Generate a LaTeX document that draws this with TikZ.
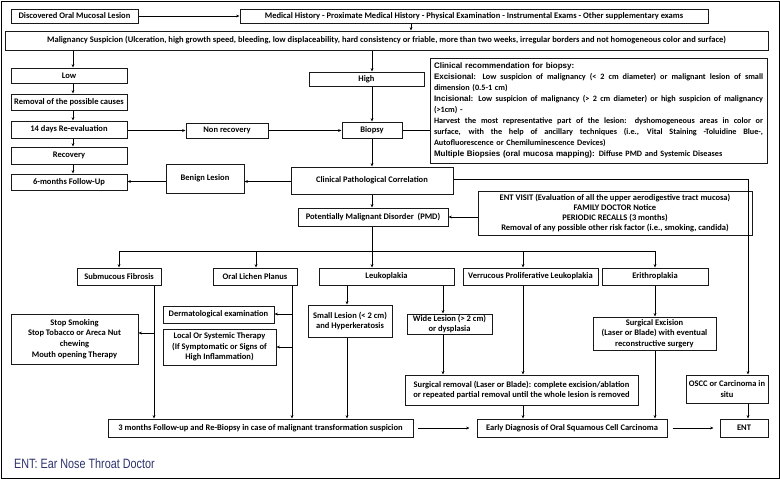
\documentclass[tikz,border=0pt]{standalone}
\usepackage{fontspec}
\setmainfont{Carlito}
\newfontfamily\hdfont{Liberation Sans}
\newfontfamily\narrowfont[FakeStretch=0.8]{Liberation Sans}
\usetikzlibrary{arrows.meta,calc}
\definecolor{navy}{RGB}{45,50,110}
\newcommand\fnt{\fontsize{8.5}{10.5}\selectfont\bfseries}
\newcommand\hd[1]{{\hdfont\bfseries\fontsize{8}{11.1}\selectfont #1}}
\newcommand\jline[1]{\makebox[329pt][s]{\spaceskip=0pt\xspaceskip=0pt #1}}
\begin{document}
\begin{tikzpicture}[x=1pt,y=-1pt,
  bx/.style={draw=black!90, line width=1pt, inner sep=0pt, font=\fnt, align=center},
  arr/.style={-{Stealth[length=3.4pt,width=2.8pt]}, line width=0.7pt},
  ln/.style={line width=0.7pt}]
\useasboundingbox (0,0) rectangle (780,479);
\draw[line width=0.8pt] (1,1) rectangle (779,478);

% nodes
\node[bx, minimum width=127, minimum height=14] (disc) at (74.5,16) {Discovered Oral Mucosal Lesion};
\node[bx, minimum width=468, minimum height=14] (med) at (474,16) {Medical History - Proximate Medical History - Physical Examination - Instrumental Exams - Other supplementary exams};
\node[bx, minimum width=763, minimum height=19] (mal) at (386.5,40.5) {Malignancy Suspicion (Ulceration, high growth speed, bleeding, low displaceability, hard consistency or friable, more than two weeks, irregular borders and not homogeneous color and surface)};
\node[bx, minimum width=116, minimum height=15] (low) at (69,75.5) {Low};
\node[bx, minimum width=116, minimum height=16] (rem) at (69,102) {Removal of the possible causes};
\node[bx, minimum width=116, minimum height=17] (d14) at (69,129.5) {14 days Re-evaluation};
\node[bx, minimum width=116, minimum height=17] (rec) at (69,155.5) {Recovery};
\node[bx, minimum width=116, minimum height=16] (six) at (69,182) {6-months Follow-Up};
\node[bx, minimum width=82, minimum height=15] (nonrec) at (227,130.5) {Non recovery};
\node[bx, minimum width=115, minimum height=14] (high) at (366.5,79) {High};
\node[bx, minimum width=60, minimum height=16] (biopsy) at (372,130) {Biopsy};
\node[bx, minimum width=337, minimum height=105, text width=329pt, align=left, font=\fontsize{8.2}{11.1}\selectfont\bfseries] (clin) at (598.5,110.5) {\hd{Clinical recommendation for biopsy:}\\
\jline{\hd{Excisional}: Low suspicion of malignancy (< 2 cm diameter) or malignant lesion of small}\\
dimension (0.5-1 cm)\\
\jline{\hd{Incisional}: Low suspicion of malignancy (> 2 cm diameter) or high suspicion of malignancy}\\
(>1cm) -\\
\jline{Harvest the most representative part of the lesion: dyshomogeneous areas in color or}\\
\jline{surface, with the help of ancillary techniques (i.e., Vital Staining -Toluidine Blue-,}\\
Autofluorescence or Chemiluminescence Devices)\\
\hd{Multiple Biopsies (oral mucosa mapping):} Diffuse PMD and Systemic Diseases};
\node[bx, minimum width=162, minimum height=27] (cpc) at (372,180.5) {Clinical Pathological Correlation};
\node[bx, minimum width=78, minimum height=29] (benign) at (205,178.5) {Benign Lesion};
\node[bx, minimum width=150, minimum height=18] (pmd) at (373,217) {Potentially Malignant Disorder~~(PMD)};
\node[bx, minimum width=274, minimum height=44, font=\fontsize{8.5}{10.2}\selectfont\bfseries] (entv) at (615,213) {ENT VISIT (Evaluation of all the upper aerodigestive tract mucosa)\\FAMILY DOCTOR Notice\\PERIODIC RECALLS (3 months)\\Removal of any possible other risk factor (i.e., smoking, candida)};
\node[bx, minimum width=84, minimum height=17] (smf) at (119,276.5) {Submucous Fibrosis};
\node[bx, minimum width=84, minimum height=17] (olp) at (255,276.5) {Oral Lichen Planus};
\node[bx, minimum width=135, minimum height=17] (leuk) at (386.5,276.5) {Leukoplakia};
\node[bx, minimum width=135, minimum height=17] (vpl) at (530.5,276.5) {Verrucous Proliferative Leukoplakia};
\node[bx, minimum width=106, minimum height=17] (eri) at (655,276.5) {Erithroplakia};
\node[bx, minimum width=127, minimum height=50, font=\fontsize{8.5}{10.8}\selectfont\bfseries] (stop) at (74.5,339) {Stop Smoking\\Stop Tobacco or Areca Nut\\chewing\\Mouth opening Therapy};
\node[bx, minimum width=111, minimum height=17] (derm) at (218.5,314.5) {Dermatological examination};
\node[bx, minimum width=113, minimum height=36] (local) at (219.5,347) {Local Or Systemic Therapy\\(If Symptomatic or Signs of\\High Inflammation)};
\node[bx, minimum width=84, minimum height=32] (small) at (350,321) {Small Lesion (< 2 cm)\\and Hyperkeratosis};
\node[bx, minimum width=85, minimum height=20] (wide) at (449.5,324) {Wide Lesion (> 2 cm)\\or dysplasia};
\node[bx, minimum width=123, minimum height=33] (surgex) at (654.5,333.5) {Surgical Excision\\(Laser or Blade) with eventual\\reconstructive surgery};
\node[bx, minimum width=233, minimum height=30] (surgrem) at (521.5,390) {Surgical removal (Laser or Blade): complete excision/ablation\\or repeated partial removal until the whole lesion is removed};
\node[bx, minimum width=82, minimum height=28] (oscc) at (727,389) {OSCC or Carcinoma in\\situ};
\node[bx, minimum width=305, minimum height=18] (three) at (260.5,428) {3 months Follow-up and Re-Biopsy in case of malignant transformation suspicion};
\node[bx, minimum width=190, minimum height=18] (early) at (572,428) {Early Diagnosis of Oral Squamous Cell Carcinoma};
\node[bx, minimum width=48, minimum height=18] (ent) at (744,428) {ENT};
\node[anchor=base west, inner sep=0pt, text=navy, font=\narrowfont\fontsize{13.5}{13.5}\selectfont] (foot) at (14,468) {ENT: Ear Nose Throat Doctor};

% helper coordinates
\coordinate (xA) at (411,0);
\coordinate (xL) at (73,0);
\coordinate (xH) at (372,0);
\coordinate (xO) at (748,0);
\coordinate (xS) at (154,0);
\coordinate (xP) at (292,0);
\coordinate (xK1) at (347,0);
\coordinate (xK2) at (443,0);
\coordinate (xV) at (523,0);
\coordinate (xE) at (655,0);
\coordinate (xB1) at (119,0);
\coordinate (xB2) at (256,0);
\coordinate (bus) at (0,251);
\coordinate (yCP) at (0,179);
\coordinate (yBL) at (0,181.5);
\coordinate (ySt) at (0,333);
\coordinate (yDe) at (0,314);
\coordinate (yLo) at (0,347);

% connectors
\draw[arr] (disc) -- (med);
\draw[arr] (med.south -| xA) -- (mal.north -| xA);
\draw[arr] (mal.south -| xL) -- (low.north -| xL);
\draw[arr] (mal.south -| xH) -- (high.north -| xH);
\draw[arr] (low.south -| xL) -- (rem.north -| xL);
\draw[arr] (rem.south -| xL) -- (d14.north -| xL);
\draw[arr] (d14.south -| xL) -- (rec.north -| xL);
\draw[arr] (rec.south -| xL) -- (six.north -| xL);
\draw[arr] (d14.east |- nonrec) -- (nonrec.west);
\draw[arr] (nonrec.east) -- (biopsy.west |- nonrec.east);
\draw[arr] (high.south -| xH) -- (biopsy.north -| xH);
\draw[ln] (biopsy.east) -- (clin.west |- biopsy.east);
\draw[arr] (biopsy) -- (cpc);
\draw[arr] (cpc.west |- yBL) -- (benign.east |- yBL);
\draw[arr] (benign.west |- yBL) -- (six.east |- yBL);
\draw[arr] (cpc.east |- yCP) -| (oscc.north -| xO);
\draw[arr] (cpc.south) -- (pmd.north -| cpc.south);
\draw[arr] (entv.west |- pmd.east) -- (pmd.east);
\draw[ln] (pmd.south -| xH) -- (bus -| xH);
\draw[ln] (bus -| xB1) -- (bus -| xE);
\draw[arr] (bus -| xB1) -- (smf.north -| xB1);
\draw[arr] (bus -| xB2) -- (olp.north -| xB2);
\draw[arr] (bus -| xH) -- (leuk.north -| xH);
\draw[arr] (bus -| xV) -- (vpl.north -| xV);
\draw[arr] (bus -| xE) -- (eri.north -| xE);
\draw[arr] (smf.south -| xS) -- (three.north -| xS);
\draw[arr] (ySt -| xS) -- (stop.east |- ySt);
\draw[arr] (olp.south -| xP) -- (three.north -| xP);
\draw[arr] (yDe -| xP) -- (derm.east |- yDe);
\draw[arr] (yLo -| xP) -- (local.east |- yLo);
\draw[arr] (leuk.south -| xK1) -- (small.north -| xK1);
\draw[arr] (small.south -| xK1) -- (three.north -| xK1);
\draw[arr] (leuk.south -| xK2) -- (wide.north -| xK2);
\draw[arr] (wide.south -| xK2) -- (surgrem.north -| xK2);
\draw[arr] (vpl.south -| xV) -- (surgrem.north -| xV);
\draw[arr] (eri.south -| xE) -- (surgex.north -| xE);
\draw[arr] (surgex.south -| xE) -- (early.north -| xE);
\draw[arr] (surgrem.south -| xV) -- (early.north -| xV);
\draw[arr] (oscc.south -| xO) -- (ent.north -| xO);
\draw[arr, shorten <=4pt, shorten >=7pt] (three) -- (early);
\draw[arr, shorten <=5pt, shorten >=6pt] (early) -- (ent);
\end{tikzpicture}
\end{document}
